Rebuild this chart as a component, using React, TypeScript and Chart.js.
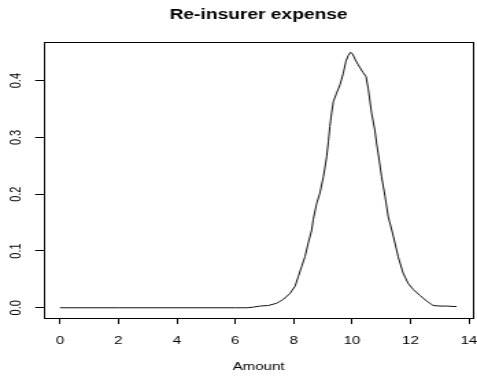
import React, { useEffect, useRef } from "react";
import { Chart, registerables } from "chart.js";

Chart.register(...registerables);

// Data
const amount = [
  0, 2, 4, 6, 6.4, 6.6, 6.85, 7.13, 7.42, 7.65, 7.87, 8.05, 8.16, 8.27, 8.39, 8.5, 8.62, 8.67, 8.79,
  8.9, 9.02, 9.07, 9.13, 9.19, 9.24, 9.3, 9.36, 9.47, 9.59, 9.7, 9.79, 9.87, 9.95, 10.02, 10.1,
  10.21, 10.38, 10.48, 10.56, 10.67, 10.78, 10.84, 10.93, 11.01, 11.13, 11.24, 11.36, 11.47, 11.58,
  11.75, 11.92, 12.1, 12.32, 12.55, 12.78, 13.01, 13.24, 13.58,
];
const density = [
  0, 0, 0, 0, 0, 0.001, 0.003, 0.004, 0.008, 0.015, 0.025, 0.038, 0.055, 0.072, 0.09, 0.114, 0.137,
  0.155, 0.184, 0.202, 0.231, 0.246, 0.266, 0.293, 0.319, 0.343, 0.363, 0.378, 0.393, 0.413, 0.434,
  0.444, 0.45, 0.447, 0.438, 0.428, 0.414, 0.407, 0.384, 0.343, 0.313, 0.29, 0.26, 0.231, 0.196,
  0.16, 0.137, 0.114, 0.09, 0.061, 0.043, 0.032, 0.022, 0.012, 0.004, 0.003, 0.003, 0.002,
];
const xTicks = [0, 2, 4, 6, 8, 10, 12, 14];
const yTicks = [0, 0.1, 0.2, 0.3, 0.4];

const chartTitle = "Re-insurer expense";
const xLabel = "Amount";

const FONT = "'Liberation Sans', Arial, sans-serif";
const INNER_W = 348;
const H = 377;

const boxPlugin = {
  id: "rbox",
  afterDraw(chart: any) {
    const { ctx, chartArea } = chart;
    const { left, top, right, bottom } = chartArea;
    ctx.save();
    ctx.strokeStyle = "#000";
    ctx.lineWidth = 1;
    ctx.strokeRect(Math.round(left) + 0.5, Math.round(top) + 0.5, Math.round(right - left), Math.round(bottom - top));
    ctx.restore();
  },
};

export default function App() {
  const ref = useRef<HTMLCanvasElement | null>(null);

  useEffect(() => {
    const canvas = ref.current;
    if (!canvas) return;
    const chart = new Chart(canvas, {
      type: "line",
      data: {
        datasets: [
          {
            data: amount.map((x, i) => ({ x, y: density[i] })),
            borderColor: "#111",
            borderWidth: 1,
            pointRadius: 0,
            tension: 0,
            fill: false,
          },
        ],
      },
      options: {
        responsive: false,
        devicePixelRatio: 1,
        animation: false,
        layout: { padding: { left: 0, right: 2.9, top: 0, bottom: 0 } },
        plugins: {
          legend: { display: false },
          tooltip: { enabled: false },
          title: {
            display: true,
            text: chartTitle,
            fullSize: false,
            color: "#000",
            font: { family: FONT, size: 14, weight: "bold" },
            padding: { top: 6.5, bottom: 18.7 },
          },
        },
        scales: {
          x: {
            type: "linear",
            position: "bottom",
            min: -0.544,
            max: 14.144,
            afterBuildTicks: (s: any) => {
              s.ticks = xTicks.map((v) => ({ value: v }));
            },
            afterFit: (s: any) => {
              s.height = 59;
              s.paddingLeft = 0;
              s.paddingRight = 0;
            },
            ticks: {
              autoSkip: false,
              minRotation: 0,
              maxRotation: 0,
              padding: 10.7,
              color: "#000",
              font: { family: FONT, size: 11 },
              callback: (v: any) => String(v),
            },
            grid: { display: true, drawOnChartArea: false, drawTicks: true, tickLength: 6, color: "#000", lineWidth: 1 },
            border: { display: false },
            title: {
              display: true,
              text: xLabel,
              color: "#000",
              font: { family: FONT, size: 11 },
              padding: { top: 0, bottom: 3.6 },
            },
          },
          y: {
            type: "linear",
            position: "left",
            min: -0.018,
            max: 0.468,
            afterBuildTicks: (s: any) => {
              s.ticks = yTicks.map((v) => ({ value: v }));
            },
            afterFit: (s: any) => {
              s.width = 32.2;
              s.paddingTop = 0;
              s.paddingBottom = 0;
            },
            ticks: {
              autoSkip: false,
              minRotation: 90,
              maxRotation: 90,
              crossAlign: "center",
              padding: 6.1,
              color: "#000",
              font: { family: FONT, size: 11 },
              callback: (v: any) => Number(v).toFixed(1),
            },
            grid: { display: true, drawOnChartArea: false, drawTicks: true, tickLength: 6.5, color: "#000", lineWidth: 1 },
            border: { display: false },
          },
        },
      },
      plugins: [boxPlugin],
    } as any);
    return () => chart.destroy();
  }, []);

  return (
    <div style={{ position: "absolute", left: 0, top: 0, width: 477, height: H, background: "#fff" }}>
      <canvas ref={ref} width={INNER_W} height={H} style={{ width: "477px", height: `${H}px`, display: "block" }} />
    </div>
  );
}
